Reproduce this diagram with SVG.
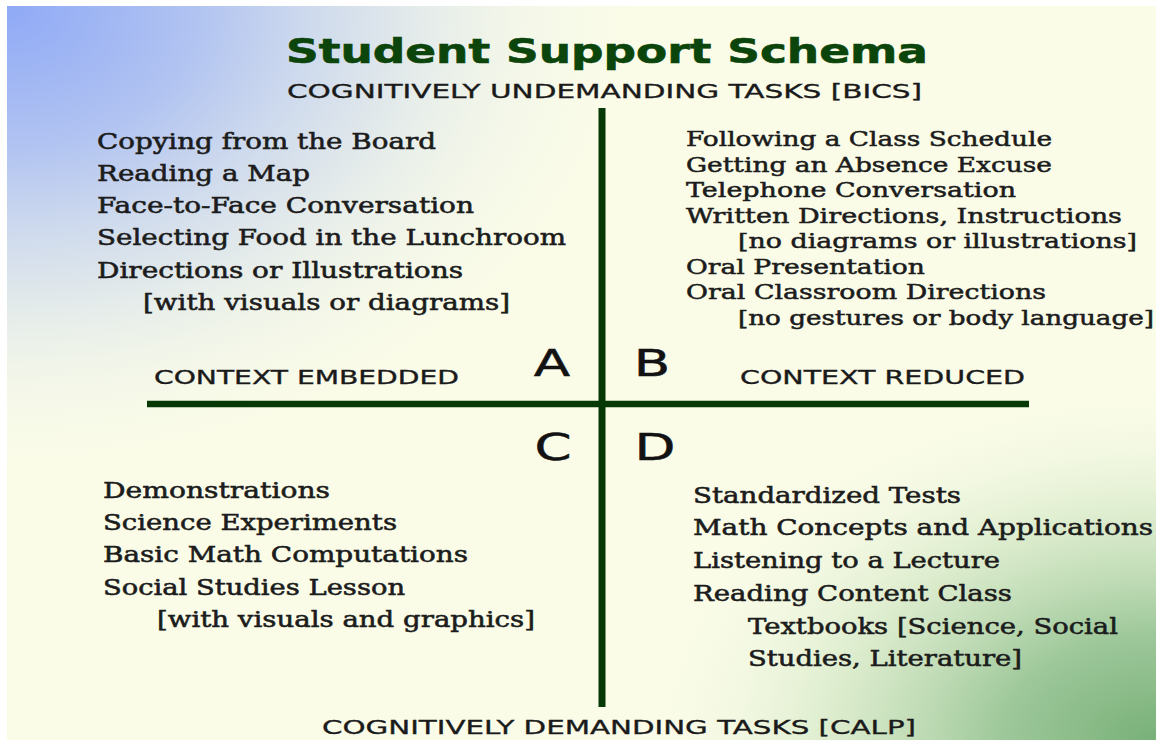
<svg xmlns="http://www.w3.org/2000/svg" width="1156" height="742" viewBox="0 0 1156 742">
  <style>
    .title { font-family: "DejaVu Sans", Verdana, sans-serif; font-weight: bold; font-size: 34px; fill: #0b450b; stroke: #0b450b; stroke-width: 0.6px; }
    .axis { font-family: "DejaVu Sans", Verdana, sans-serif; font-size: 20px; fill: #1a1a1a; stroke: #1a1a1a; stroke-width: 0.35px; }
    .ctx { font-family: "DejaVu Sans", Verdana, sans-serif; font-size: 19px; fill: #1a1a1a; stroke: #1a1a1a; stroke-width: 0.35px; }
    .quad { font-family: "DejaVu Sans", Verdana, sans-serif; font-size: 38px; fill: #121212; stroke: #121212; stroke-width: 0.5px; text-anchor: middle; }
    .item { font-family: "DejaVu Serif", "Liberation Serif", serif; font-size: 22px; fill: #1c1c1c; stroke: #1c1c1c; stroke-width: 0.55px; }
    .item-s { font-family: "DejaVu Serif", "Liberation Serif", serif; font-size: 20px; fill: #1c1c1c; stroke: #1c1c1c; stroke-width: 0.5px; }
    .rule { stroke: #073907; stroke-linecap: butt; fill: none; }
  </style>
  <defs>
    <radialGradient id="blueGlow" cx="0" cy="0" r="1" gradientUnits="userSpaceOnUse" gradientTransform="translate(10 10) scale(640 470)">
      <stop offset="0" stop-color="#90aaf6"/>
      <stop offset="0.3" stop-color="#b2c4f1"/>
      <stop offset="0.6" stop-color="#d6e0ec" stop-opacity="0.75"/>
      <stop offset="1" stop-color="#fafce8" stop-opacity="0"/>
    </radialGradient>
    <radialGradient id="greenGlow" cx="0" cy="0" r="1" gradientUnits="userSpaceOnUse" gradientTransform="translate(1156 742) scale(520 360)">
      <stop offset="0" stop-color="#78b078"/>
      <stop offset="0.3" stop-color="#9ec89a"/>
      <stop offset="0.65" stop-color="#d4e8c6" stop-opacity="0.7"/>
      <stop offset="1" stop-color="#fafce8" stop-opacity="0"/>
    </radialGradient>
  </defs>

  <!-- page -->
  <rect x="0" y="0" width="1156" height="742" fill="#ffffff"/>
  <rect x="7" y="6" width="1149" height="734" fill="#fafce8"/>
  <rect x="7" y="6" width="1149" height="734" fill="url(#blueGlow)"/>
  <rect x="7" y="6" width="1149" height="734" fill="url(#greenGlow)"/>

  <!-- heading and axis captions -->
  <g id="title">
    <text class="title" x="286" y="63" textLength="642" lengthAdjust="spacingAndGlyphs">Student Support Schema</text>
  </g>
  <g id="axis-top">
    <text class="axis" x="287" y="98" textLength="635" lengthAdjust="spacingAndGlyphs">COGNITIVELY UNDEMANDING TASKS [BICS]</text>
  </g>
  <g id="axis-bottom">
    <text class="axis" x="322" y="734" textLength="594" lengthAdjust="spacingAndGlyphs">COGNITIVELY DEMANDING TASKS [CALP]</text>
  </g>
  <g id="axis-left">
    <text class="ctx" x="154" y="384" textLength="305" lengthAdjust="spacingAndGlyphs">CONTEXT EMBEDDED</text>
  </g>
  <g id="axis-right">
    <text class="ctx" x="740" y="384" textLength="285" lengthAdjust="spacingAndGlyphs">CONTEXT REDUCED</text>
  </g>

  <!-- the two crossing axes -->
  <g id="axes">
    <line class="rule" x1="602" y1="108" x2="602" y2="707" stroke-width="7"/>
    <line class="rule" x1="147" y1="404" x2="1029" y2="404" stroke-width="6.5"/>
  </g>

  <!-- quadrant letters -->
  <g id="letters">
    <text class="quad" transform="translate(552 376) scale(1.4 1)">A</text>
    <text class="quad" transform="translate(652 376) scale(1.4 1)">B</text>
    <text class="quad" transform="translate(553 460) scale(1.4 1)">C</text>
    <text class="quad" transform="translate(655 460) scale(1.4 1)">D</text>
  </g>

  <!-- quadrant A: undemanding, context embedded -->
  <g id="quadrant-a">
    <text class="item" x="97" y="149" textLength="339" lengthAdjust="spacingAndGlyphs">Copying from the Board</text>
    <text class="item" x="97" y="181" textLength="213" lengthAdjust="spacingAndGlyphs">Reading a Map</text>
    <text class="item" x="97" y="213" textLength="377" lengthAdjust="spacingAndGlyphs">Face-to-Face Conversation</text>
    <text class="item" x="97" y="245" textLength="469" lengthAdjust="spacingAndGlyphs">Selecting Food in the Lunchroom</text>
    <text class="item" x="97" y="278" textLength="366" lengthAdjust="spacingAndGlyphs">Directions or Illustrations</text>
    <text class="item" x="143" y="310" textLength="367" lengthAdjust="spacingAndGlyphs">[with visuals or diagrams]</text>
  </g>

  <!-- quadrant B: undemanding, context reduced -->
  <g id="quadrant-b">
    <text class="item-s" x="686" y="146" textLength="366" lengthAdjust="spacingAndGlyphs">Following a Class Schedule</text>
    <text class="item-s" x="686" y="172" textLength="366" lengthAdjust="spacingAndGlyphs">Getting an Absence Excuse</text>
    <text class="item-s" x="686" y="197" textLength="330" lengthAdjust="spacingAndGlyphs">Telephone Conversation</text>
    <text class="item-s" x="686" y="223" textLength="436" lengthAdjust="spacingAndGlyphs">Written Directions, Instructions</text>
    <text class="item-s" x="738" y="248" textLength="399" lengthAdjust="spacingAndGlyphs">[no diagrams or illustrations]</text>
    <text class="item-s" x="686" y="274" textLength="239" lengthAdjust="spacingAndGlyphs">Oral Presentation</text>
    <text class="item-s" x="686" y="299" textLength="360" lengthAdjust="spacingAndGlyphs">Oral Classroom Directions</text>
    <text class="item-s" x="738" y="325" textLength="416" lengthAdjust="spacingAndGlyphs">[no gestures or body language]</text>
  </g>

  <!-- quadrant C: demanding, context embedded -->
  <g id="quadrant-c">
    <text class="item" x="103" y="498" textLength="227" lengthAdjust="spacingAndGlyphs">Demonstrations</text>
    <text class="item" x="103" y="530" textLength="294" lengthAdjust="spacingAndGlyphs">Science Experiments</text>
    <text class="item" x="103" y="562" textLength="365" lengthAdjust="spacingAndGlyphs">Basic Math Computations</text>
    <text class="item" x="103" y="595" textLength="302" lengthAdjust="spacingAndGlyphs">Social Studies Lesson</text>
    <text class="item" x="157" y="627" textLength="378" lengthAdjust="spacingAndGlyphs">[with visuals and graphics]</text>
  </g>

  <!-- quadrant D: demanding, context reduced -->
  <g id="quadrant-d">
    <text class="item" x="693" y="503" textLength="268" lengthAdjust="spacingAndGlyphs">Standardized Tests</text>
    <text class="item" x="693" y="535" textLength="460" lengthAdjust="spacingAndGlyphs">Math Concepts and Applications</text>
    <text class="item" x="693" y="568" textLength="307" lengthAdjust="spacingAndGlyphs">Listening to a Lecture</text>
    <text class="item" x="693" y="601" textLength="319" lengthAdjust="spacingAndGlyphs">Reading Content Class</text>
    <text class="item" x="748" y="634" textLength="370" lengthAdjust="spacingAndGlyphs">Textbooks [Science, Social</text>
    <text class="item" x="748" y="666" textLength="274" lengthAdjust="spacingAndGlyphs">Studies, Literature]</text>
  </g>
</svg>
